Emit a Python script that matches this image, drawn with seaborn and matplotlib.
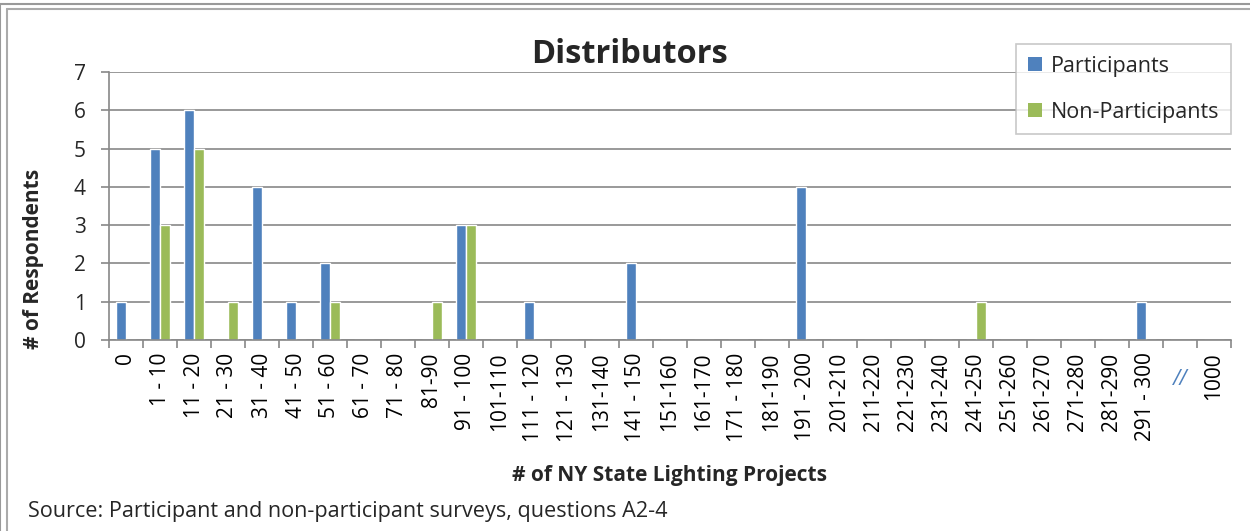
import matplotlib
matplotlib.use("Agg")
import matplotlib.pyplot as plt
import seaborn as sns
import pandas as pd
from matplotlib.lines import Line2D
from matplotlib.patches import Patch

categories = ["0", "1 - 10", "11 - 20", "21 - 30", "31 - 40", "41 - 50", "51 - 60",
              "61 - 70", "71 - 80", "81-90", "91 - 100", "101-110", "111 - 120",
              "121 - 130", "131-140", "141 - 150", "151-160", "161-170", "171 - 180",
              "181-190", "191 - 200", "201-210", "211-220", "221-230", "231-240",
              "241-250", "251-260", "261-270", "271-280", "281-290", "291 - 300",
              "//", "1000"]
participants = [1, 5, 6, 0, 4, 1, 2, 0, 0, 0, 3, 0, 1, 0, 0, 2, 0, 0, 0, 0, 4,
                0, 0, 0, 0, 0, 0, 0, 0, 0, 1, 0, 0]
non_participants = [0, 3, 5, 1, 0, 0, 1, 0, 0, 1, 3, 0, 0, 0, 0, 0, 0, 0, 0, 0, 0,
                    0, 0, 0, 0, 1, 0, 0, 0, 0, 0, 0, 0]
series = ["Participants", "Non-Participants"]
colors = ["#4F81BD", "#9BBB59"]

df = pd.DataFrame({
    "cat": categories * 2,
    "val": participants + non_participants,
    "series": [series[0]] * len(categories) + [series[1]] * len(categories),
})

sns.set_theme(style="white")
plt.rcParams["font.family"] = ["Open Sans", "DejaVu Sans"]

fig = plt.figure(figsize=(12.5, 5.31), dpi=100)
ax = fig.add_axes([0.0872, 0.3597, 0.8976, 0.5047])

sns.barplot(data=df, x="cat", y="val", hue="series", order=categories,
            hue_order=series, palette=colors, width=0.56, dodge=True,
            saturation=1, ax=ax, legend=False, errorbar=None)

grid_c = "#888888"
ax.set_xlim(-0.5, len(categories) - 0.5)
ax.set_ylim(0, 7)
ax.set_yticks(range(0, 8))
ax.yaxis.grid(True, color=grid_c, linewidth=1.2)
ax.set_axisbelow(True)
for s in ["top", "right"]:
    ax.spines[s].set_visible(False)
for s in ["left", "bottom"]:
    ax.spines[s].set_color(grid_c)
    ax.spines[s].set_linewidth(1.2)

ax.set_xticks(range(len(categories)))
ax.set_xticklabels([c if c != "//" else "" for c in categories], rotation=90,
                   fontsize=15, color="black")
ax.tick_params(axis="x", which="major", length=0, pad=9)
ax.set_xticks([i - 0.5 for i in range(len(categories) + 1)], minor=True)
ax.tick_params(axis="x", which="minor", length=5.5, width=1.2, color=grid_c,
               direction="out", bottom=True)
ax.tick_params(axis="y", length=5.8, width=1.2, color=grid_c, labelsize=15,
               left=True, pad=11)

idx = categories.index("//")
ax.text(idx, -0.75, "//", transform=ax.transData, ha="center", va="top",
        fontsize=15, color="#4F81BD", style="italic")

ax.set_xlabel("# of NY State Lighting Projects", fontsize=15, fontweight="bold",
              labelpad=17)
ax.set_ylabel("# of Respondents", fontsize=15, fontweight="bold")
ax.yaxis.set_label_coords(-0.058, 0.302)

fig.text(0.504, 0.866, "Distributors", ha="center", va="bottom",
         fontsize=23.5, fontweight="bold")

handles = [Patch(facecolor=c, edgecolor="none") for c in colors]
leg = ax.legend(handles, series, loc="upper left",
                bbox_to_anchor=(1016 / 1250, 1 - 44 / 531),
                bbox_transform=fig.transFigure, fontsize=15.5, frameon=True,
                fancybox=False, edgecolor="#BBBBBB", handlelength=0.65,
                handleheight=0.65, handletextpad=0.4, labelspacing=1.15,
                borderpad=0.55, borderaxespad=0)
leg.get_frame().set_linewidth(1.2)

fig.text(28 / 1250, 1 - 511 / 531, "Source: Participant and non-participant surveys, questions A2-4",
         ha="left", va="center", fontsize=15.6)

# outer frame lines
fig.add_artist(Line2D([0, 1], [1 - 4 / 531, 1 - 4 / 531], transform=fig.transFigure,
                      color="#999999", linewidth=1.5))
fig.add_artist(Line2D([7 / 1250, 1], [1 - 9 / 531, 1 - 9 / 531], transform=fig.transFigure,
                      color="#AAAAAA", linewidth=1.5))
fig.add_artist(Line2D([7 / 1250, 7 / 1250], [0, 1 - 9 / 531], transform=fig.transFigure,
                      color="#AAAAAA", linewidth=1.5))
fig.add_artist(Line2D([0, 0], [0, 1 - 4 / 531], transform=fig.transFigure,
                      color="#999999", linewidth=1.5))

fig.savefig("out.png", dpi=100)
